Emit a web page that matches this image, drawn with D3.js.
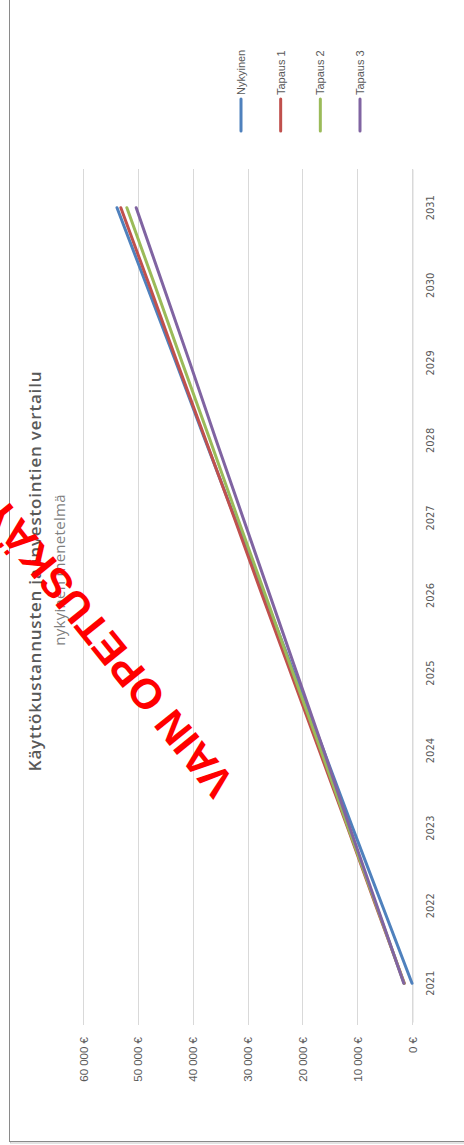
<!DOCTYPE html>
<html lang="fi">
<head>
<meta charset="utf-8">
<title>Käyttökustannusten ja investointien vertailu</title>
<script src="https://d3js.org/d3.v7.min.js"></script>
<style>
    body { margin: 0; background: #fff; }
    svg { display: block; }
</style>
</head>
<body>
<svg id="chart" width="464" height="1145"></svg>
<script>

    // data
    var years = ["2021", "2022", "2023", "2024", "2025", "2026", "2027", "2028", "2029", "2030", "2031"];
    var seriesNames = ["Nykyinen", "Tapaus 1", "Tapaus 2", "Tapaus 3"];
    var nykyinen = [0, 5400, 10800, 16100, 21500, 26900, 32300, 37700, 43000, 48400, 53800];
    var tapaus1 = [1400, 6600, 11700, 16900, 22100, 27300, 32400, 37600, 42800, 47900, 53100];
    var tapaus2 = [1450, 6500, 11600, 16600, 21700, 26700, 31800, 36800, 41900, 46900, 52000];
    var tapaus3 = [1500, 6400, 11300, 16100, 21000, 25900, 30800, 35700, 40500, 45400, 50300];
    var valueTicks = [0, 10000, 20000, 30000, 40000, 50000, 60000];

    var colors = ["#4f81bd", "#c0504d", "#9bbb59", "#8064a2"];
    var allSeries = [nykyinen, tapaus1, tapaus2, tapaus3];

    var svg = d3.select("#chart");
    var txt = "#595959";

    // chart frame (left and bottom edges visible)
    svg.append("rect")
        .attr("x", 10.5).attr("y", -10)
        .attr("width", 470).attr("height", 1153)
        .style("fill", "none").style("stroke", "#c8c8c8").style("stroke-width", 1);
    svg.append("rect")
        .attr("x", 9.5).attr("y", -10)
        .attr("width", 470).attr("height", 1151.5)
        .style("fill", "#fff").style("stroke", "#8a8a8a").style("stroke-width", 1);

    // plot is drawn rotated: values run right->left, years bottom->top
    var x = d3.scaleLinear().domain([0, 60000]).range([412, 83]);
    var y = d3.scalePoint().domain(years).range([1022, 169]).padding(0.5);

    var fmt = function (d) {
        return d3.format(",")(d).replace(/,/g, " ") + " €";
    };

    // gridlines
    svg.append("g").selectAll("line")
        .data(valueTicks)
        .enter().append("line")
        .attr("x1", d => Math.round(x(d)) + 0.5)
        .attr("x2", d => Math.round(x(d)) + 0.5)
        .attr("y1", 169)
        .attr("y2", 1025)
        .style("stroke", "#d9d9d9")
        .style("stroke-width", 1);

    // value axis labels
    var vAxis = svg.append("g")
        .attr("transform", "translate(0,1025)")
        .call(d3.axisBottom(x).tickValues(valueTicks).tickFormat(fmt).tickSize(0));
    vAxis.select(".domain").remove();
    vAxis.selectAll("text")
        .attr("transform", "translate(0,12) rotate(-90)")
        .attr("x", 0).attr("y", 0).attr("dy", "0.35em")
        .style("text-anchor", "end")
        .style("font-family", "'Liberation Sans', Arial, sans-serif")
        .style("font-size", "11.5px")
        .style("fill", txt);

    // category axis
    var cAxis = svg.append("g")
        .attr("transform", "translate(412.5,0)")
        .call(d3.axisRight(y).tickSize(0));
    cAxis.select(".domain").style("stroke", "#d9d9d9");
    cAxis.selectAll("text")
        .attr("transform", function (d) { return "translate(18," + y(d) + ") rotate(-90)"; })
        .attr("x", 0).attr("y", 0).attr("dy", "0.35em")
        .style("text-anchor", "middle")
        .style("font-family", "'Liberation Sans Narrow', 'DejaVu Sans Condensed', sans-serif")
        .style("font-size", "11px")
        .style("fill", txt);
    cAxis.selectAll(".tick").attr("transform", null);

    // lines
    var line = d3.line()
        .x(d => x(d.v))
        .y(d => y(d.year));

    svg.append("g").selectAll("path")
        .data(allSeries)
        .enter().append("path")
        .attr("d", vals => line(vals.map((v, i) => ({ year: years[i], v: v }))))
        .style("fill", "none")
        .style("stroke", (d, i) => colors[i])
        .style("stroke-width", 3)
        .style("stroke-linecap", "round")
        .style("stroke-linejoin", "round");

    // title and subtitle
    svg.append("text")
        .attr("transform", "translate(41,571) rotate(-90)")
        .style("text-anchor", "middle")
        .style("font-family", "'Open Sans', 'Liberation Sans', sans-serif")
        .style("font-weight", "600")
        .style("font-size", "17px")
        .style("letter-spacing", "0.8px")
        .style("fill", txt)
        .text("Käyttökustannusten ja investointien vertailu");

    svg.append("text")
        .attr("transform", "translate(65,570) rotate(-90)")
        .style("text-anchor", "middle")
        .style("font-family", "'Open Sans', 'Liberation Sans', sans-serif")
        .style("font-size", "15px")
        .style("letter-spacing", "0.3px")
        .style("fill", "#7f7f7f")
        .text("nykyinen menetelmä");

    // legend
    var legX = d3.scalePoint().domain(seriesNames).range([241, 360]);
    var leg = svg.append("g").selectAll("g")
        .data(seriesNames)
        .enter().append("g")
        .attr("transform", d => "translate(" + legX(d) + ",0)");
    leg.append("line")
        .attr("x1", 0).attr("x2", 0)
        .attr("y1", 99).attr("y2", 131)
        .style("stroke", (d, i) => colors[i])
        .style("stroke-width", 3)
        .style("stroke-linecap", "round");
    leg.append("text")
        .attr("transform", "translate(0,95) rotate(-90)")
        .attr("dy", "0.35em")
        .style("font-family", "'Liberation Sans', Arial, sans-serif")
        .style("font-size", "11px")
        .style("fill", txt)
        .text(d => d);

    // watermark
    svg.append("text")
        .attr("transform", "translate(236,782) rotate(-129)")
        .style("font-family", "'Liberation Sans', Arial, sans-serif")
        .style("font-weight", "bold")
        .style("font-size", "42px")
        .style("fill", "#ff0000")
        .text("VAIN OPETUSKÄYTTÖÖN");

</script>
</body>
</html>
